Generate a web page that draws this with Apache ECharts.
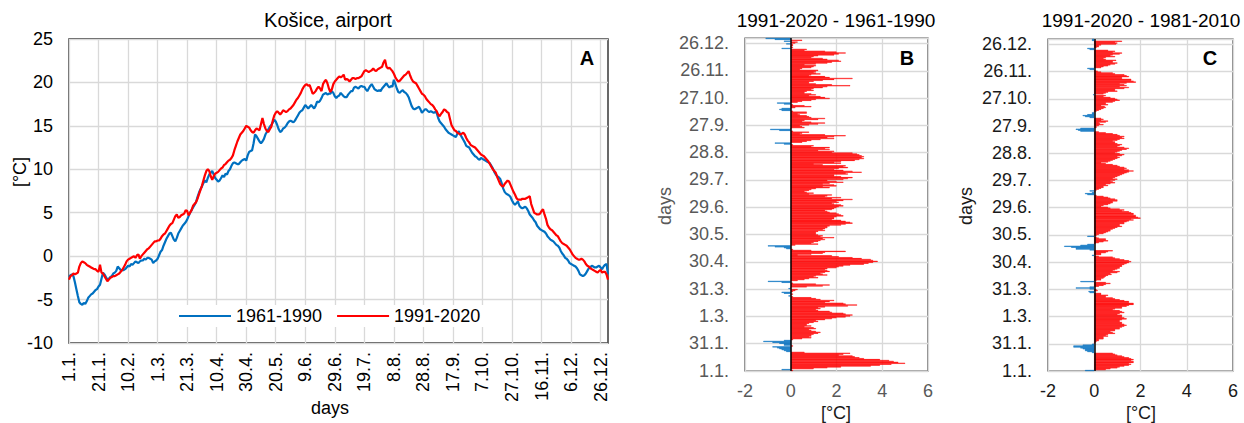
<!DOCTYPE html>
<html lang="en">
<head>
  <meta charset="UTF-8">
  <title>Kosice airport</title>
  <script src="https://cdn.jsdelivr.net/npm/echarts@6/dist/echarts.min.js"></script>
  <style>
    body { margin: 0; background: #fff; }
    #main { width: 1244px; height: 423px; }
  </style>
</head>
<body>
  <div id="main"></div>
  <script>
    // days of a leap year, labels like "1.1."
    var monthLen = [31, 29, 31, 30, 31, 30, 31, 31, 30, 31, 30, 31]
    var dayLabels = []
    monthLen.forEach(function (n, m) {
      for (var d = 1; d <= n; d++) dayLabels.push(d + '.' + (m + 1) + '.')
    })

    // mean daily temperature, 1961-1990
    var t6190 = [
      -2.4,-2.2,-2.1,-2.3,-3.0,-3.8,-4.6,-5.3,-5.5,-5.6,
      -5.4,-5.5,-5.2,-4.8,-4.6,-4.4,-4.3,-4.1,-3.9,-3.8,
      -3.5,-3.3,-2.6,-1.9,-2.1,-2.4,-2.7,-2.6,-2.4,-2.3,
      -2.0,-1.9,-1.7,-1.2,-1.4,-1.6,-1.6,-1.6,-1.5,-1.3,
      -1.1,-1.2,-0.9,-1.0,-0.8,-0.6,-0.7,-0.8,-0.6,-0.5,
      -0.5,-0.3,-0.4,-0.2,-0.2,-0.3,-0.4,-0.8,-0.6,-0.5,
      -0.3,0.1,0.5,0.7,1.2,1.6,2.0,2.3,2.6,2.7,
      2.3,1.9,1.7,2.1,2.6,2.9,3.2,3.5,3.7,3.9,
      4.2,4.6,5.0,5.3,5.6,5.9,6.2,6.8,7.3,7.7,
      8.0,8.4,8.7,8.5,9.0,9.4,9.6,9.8,9.4,9.0,
      8.8,8.6,8.7,9.0,9.3,9.1,9.5,9.4,9.8,10.0,
      10.4,10.7,10.8,10.7,10.6,10.6,10.8,11.0,11.1,11.2,
      11.0,11.6,12.0,12.1,12.2,13.0,14.0,13.8,13.5,13.2,
      13.0,13.2,13.5,14.0,14.3,14.6,14.9,15.1,15.4,15.7,
      15.5,15.1,14.6,14.3,14.4,14.7,14.8,15.0,15.3,15.5,
      15.6,15.5,15.4,15.6,15.9,16.2,16.5,16.7,16.8,17.1,
      17.4,17.2,17.0,17.2,17.4,17.2,17.0,17.3,17.8,17.7,
      17.9,18.2,18.6,18.7,18.8,18.6,18.7,18.7,19.0,18.8,
      18.4,18.2,18.4,18.5,18.8,18.6,18.4,18.3,18.3,18.6,
      18.8,19.0,19.0,19.4,19.5,19.4,19.3,19.5,19.6,19.5,
      19.5,19.2,19.0,19.3,19.6,19.8,19.5,19.2,19.1,19.0,
      19.1,19.0,19.3,19.5,19.7,19.9,19.6,19.4,19.6,19.5,
      20.3,19.8,19.3,18.9,18.8,19.0,19.1,18.9,18.8,18.6,
      18.3,17.8,17.3,17.0,16.9,17.0,17.1,17.2,16.9,16.5,
      16.7,16.9,16.9,16.7,16.6,16.7,16.6,16.5,16.6,16.5,
      15.9,15.5,15.3,15.1,14.9,14.6,14.4,14.2,14.1,14.0,
      13.9,13.8,13.7,14.1,14.4,14.0,13.7,13.4,13.1,12.7,
      12.6,12.5,12.2,11.9,11.7,11.5,11.4,11.2,11.1,11.3,
      11.2,11.1,11.0,10.9,10.8,10.7,10.4,10.1,9.7,9.4,
      9.2,9.1,8.9,8.4,7.8,7.4,7.2,7.1,7.0,6.8,
      6.4,6.1,5.9,6.1,6.3,5.8,5.6,5.5,5.6,5.7,
      5.5,5.2,4.8,4.6,4.4,4.1,3.9,3.5,3.3,3.1,
      3.0,2.9,2.8,2.6,2.3,2.1,1.9,1.8,1.7,1.5,
      1.3,1.2,1.0,0.6,0.3,0.1,-0.2,-0.3,-0.5,-0.8,
      -0.9,-1.0,-1.1,-1.2,-1.4,-1.7,-2.1,-2.2,-2.3,-2.2,
      -2.0,-1.7,-1.4,-1.3,-1.1,-1.2,-1.3,-1.3,-1.2,-1.1,
      -1.3,-1.5,-1.2,-1.0,-0.9,-2.1
    ]

    // mean daily temperature, 1991-2020
    var t9120 = [
      -2.7,-2.3,-2.2,-2.0,-2.1,-2.0,-1.9,-1.2,-0.8,-0.6,
      -0.7,-0.8,-1.0,-1.1,-1.2,-1.3,-1.4,-1.5,-1.5,-1.7,
      -1.8,-1.0,-1.9,-2.0,-2.3,-2.6,-2.9,-2.7,-2.5,-2.4,
      -2.3,-2.3,-2.2,-2.1,-2.0,-1.8,-1.6,-1.3,-1.0,-0.6,
      -0.4,-0.3,-0.2,-0.1,0.0,-0.2,0.1,0.2,-0.3,0.0,
      0.2,0.4,0.6,0.8,0.9,1.1,1.3,1.5,1.7,1.7,
      1.8,1.8,2.0,2.3,2.5,2.6,2.9,3.2,3.5,3.7,
      3.8,4.2,4.6,4.8,4.4,4.5,4.7,4.8,4.9,5.3,
      5.2,4.7,5.0,5.3,5.8,6.0,6.2,6.6,7.1,7.6,
      8.1,8.7,9.3,9.8,10.0,9.8,9.2,8.8,9.2,9.5,
      9.6,9.7,9.9,10.1,10.2,10.5,10.6,10.8,11.0,11.1,
      11.3,11.6,12.2,12.7,13.2,13.6,14.0,14.2,14.4,14.7,
      15.0,14.9,14.8,14.5,14.3,14.2,14.5,14.7,14.6,14.5,
      15.2,15.9,15.2,14.7,14.4,14.3,14.6,14.9,15.6,16.2,
      16.5,16.7,16.5,16.3,16.5,16.8,16.7,16.6,16.7,16.9,
      17.0,17.2,17.4,17.7,18.0,18.2,18.5,18.8,19.2,19.5,
      19.7,19.8,19.6,19.7,19.2,18.7,18.8,19.0,19.3,19.5,
      19.3,19.0,19.8,20.1,20.3,19.9,19.3,18.9,19.2,19.8,
      20.1,20.3,20.5,20.7,20.6,20.7,20.9,20.3,20.4,20.3,
      20.1,20.3,20.5,20.5,20.4,20.5,20.5,20.6,20.7,21.0,
      21.3,21.4,21.3,21.2,21.3,21.4,21.6,21.4,21.3,21.5,
      21.6,21.7,21.8,22.3,22.6,21.8,21.6,21.7,21.5,21.3,
      21.0,20.6,20.3,20.1,20.2,20.4,20.6,20.8,20.9,21.1,
      21.3,20.8,20.4,20.1,20.0,19.9,19.6,19.3,19.0,18.7,
      18.6,18.4,18.1,17.9,17.7,17.5,17.4,17.2,16.9,16.7,
      16.3,16.1,16.4,16.6,16.9,16.8,16.6,16.5,15.8,15.1,
      14.8,14.5,14.4,14.2,14.1,14.0,14.1,14.2,14.0,13.6,
      13.3,13.1,12.8,12.7,12.6,12.5,12.3,12.1,11.9,11.7,
      11.6,11.5,11.3,11.1,10.9,10.6,10.3,10.0,9.8,9.6,
      9.1,8.7,8.3,8.1,8.0,8.3,8.5,8.7,8.6,8.2,
      7.8,7.4,7.1,6.7,6.5,6.5,6.5,6.6,6.6,6.6,
      6.7,6.8,6.9,6.0,5.5,5.0,4.9,4.8,4.8,4.9,
      5.2,5.4,4.8,4.3,3.6,3.3,3.1,3.0,2.8,2.6,
      2.4,2.3,2.0,1.7,1.5,1.4,1.3,1.2,1.0,0.8,
      0.5,0.2,0.0,-0.2,-0.3,-0.4,-0.4,-0.3,-0.4,-0.6,
      -0.9,-1.1,-1.2,-1.4,-1.5,-1.6,-1.7,-1.8,-1.9,-1.7,
      -1.6,-1.9,-1.8,-1.8,-2.1,-2.7
    ]

    // difference 1991-2020 minus 1961-1990
    var diffB = [
      0.1,-0.4,1.0,1.6,2.2,3.5,3.9,4.4,5.0,4.7,
      4.5,4.3,3.9,3.2,3.0,2.8,2.7,2.1,2.3,2.6,
      0.6,-0.2,-0.3,-0.4,-0.5,-0.6,-0.8,0.1,-0.3,-0.3,
      -0.5,-0.8,-1.2,-0.3,0.1,0.5,0.9,0.8,0.9,0.9,
      1.0,1.2,1.3,1.1,0.9,0.8,1.1,1.0,0.6,0.9,
      0.7,0.7,0.8,1.0,1.2,1.1,1.5,1.8,2.0,2.4,
      2.6,2.7,2.4,2.3,1.8,1.7,1.2,1.1,1.3,1.2,
      1.5,2.5,2.9,2.4,2.3,1.5,1.7,1.9,1.3,1.1,
      0.9,0.1,-0.1,0.0,0.1,-0.3,-0.4,0.1,0.2,0.3,
      -0.1,0.0,0.7,1.4,1.7,1.1,0.1,-0.4,-1.0,0.3,
      0.6,0.8,1.2,1.0,1.1,1.6,1.4,1.3,1.5,1.7,
      1.6,1.5,1.6,2.0,2.1,2.3,2.6,3.2,3.4,3.6,
      3.8,3.6,3.5,3.1,2.7,2.1,1.8,0.3,0.9,1.4,
      1.5,2.4,0.9,0.1,-0.2,-0.3,-0.7,-1.0,0.2,1.2,
      0.9,1.0,1.2,1.3,1.5,1.4,1.9,1.3,1.4,1.2,
      1.1,1.1,1.1,1.2,1.5,1.4,1.5,1.6,1.6,1.7,
      2.2,2.4,2.7,2.6,2.4,2.2,1.8,1.9,1.9,2.0,
      2.3,2.2,2.1,2.0,1.7,1.6,1.5,1.8,1.9,2.0,
      2.1,2.3,2.2,1.9,1.8,2.1,2.0,2.3,2.7,1.8,
      2.2,1.5,1.6,1.8,0.8,1.0,0.7,0.6,0.8,0.9,
      1.1,1.7,1.4,2.0,1.9,1.4,1.7,2.3,2.0,1.6,
      2.3,2.5,2.7,2.2,1.9,1.9,2.5,2.4,3.1,2.7,
      2.3,1.9,2.1,2.5,2.3,2.4,1.4,1.0,2.2,1.9,
      2.2,2.8,3.0,3.2,3.1,3.2,3.1,3.0,2.9,2.7,
      1.8,1.9,1.2,1.7,1.5,1.7,0.9,1.0,0.1,-0.3,
      -0.7,0.5,0.7,0.9,1.3,1.9,1.6,1.9,2.4,1.5,
      0.4,0.5,0.8,0.1,-0.5,-0.9,0.0,0.6,0.5,0.4,
      0.8,1.2,1.5,0.9,0.5,0.6,1.2,1.5,0.9,0.8,
      0.7,0.4,0.3,0.7,0.7,0.1,-0.4,-0.5,-0.4,0.2,
      0.9,0.6,0.1,-0.3,-0.6,0.3,0.5,0.9,1.1,1.7,
      1.5,1.3,0.8,1.1,0.9,0.6,0.6,0.7,1.0,0.9,
      1.0,1.4,1.6,2.6,1.8,1.1,0.8,0.8,1.0,1.4,
      1.9,2.7,1.7,1.5,0.8,0.9,1.3,1.1,1.0,1.1,
      1.2,0.4,0.5,0.9,1.0,1.1,0.6,1.1,1.6,1.8,
      2.2,2.1,1.6,1.4,0.9,1.0,1.2,1.9,2.1,2.4,
      2.0,1.5,0.6,0.7,-0.4,0.1,0.0,0.1,0.1,-0.2,
      0.2,0.3,-0.3,0.5,-0.7,-1.1
    ]

    // difference 1991-2020 minus 1981-2010
    var diffC = [
      -0.4,0.5,0.7,1.0,1.1,1.3,1.5,1.6,1.5,1.7,
      1.7,1.6,1.7,1.6,1.5,1.3,1.2,1.0,0.9,0.8,
      -0.1,-0.3,-0.4,-0.4,-0.5,-0.6,-0.9,-0.9,-0.5,-0.1,
      0.0,0.05,0.1,0.2,0.2,0.4,0.4,0.4,0.6,0.5,
      0.6,0.9,0.8,0.7,0.9,0.9,1.1,1.1,1.2,1.3,
      1.4,1.3,1.2,1.2,1.1,1.1,1.2,1.4,1.3,1.2,
      1.2,1.2,1.0,1.1,1.3,1.2,1.1,0.8,0.9,1.2,
      1.2,1.4,1.5,1.7,1.7,1.5,1.5,1.3,1.1,0.9,
      0.8,0.5,0.5,0.6,0.3,0.3,-0.2,-0.25,0.15,0.1,
      -0.2,-0.8,-0.2,0.2,0.4,0.5,0.7,0.5,-0.6,0.1,
      0.3,0.3,0.4,0.45,0.5,0.6,0.75,0.7,1.0,1.1,
      0.8,0.9,1.0,1.1,1.1,1.2,1.2,1.3,1.4,1.5,
      1.6,1.5,1.3,1.1,0.9,0.8,0.2,-0.1,0.3,0.3,
      0.5,0.6,0.8,-0.2,-0.8,-0.8,-1.0,-1.3,-0.6,-0.3,
      0.05,0.2,0.4,0.6,0.5,0.5,0.2,0.1,-0.3,0.1,
      0.2,0.4,0.5,0.6,0.7,0.7,0.8,0.9,1.0,1.2,
      1.1,1.1,1.3,1.3,1.4,1.5,1.7,1.6,2.0,1.9,
      1.8,1.8,1.7,1.7,1.6,1.5,1.2,1.3,1.1,0.7,
      0.6,0.3,0.4,0.6,0.7,0.8,0.8,1.0,1.0,0.9,
      0.7,0.6,0.4,0.1,-0.3,-0.4,-0.1,0.05,-0.2,0.1,
      0.2,0.3,0.4,0.4,0.6,0.5,0.7,0.9,0.8,0.7,
      0.9,1.0,0.8,0.9,1.0,1.1,1.2,1.3,1.4,1.5,
      1.7,1.5,1.3,1.4,1.3,1.1,1.0,0.8,0.5,0.3,
      0.6,0.7,0.8,0.9,1.0,1.1,1.0,1.2,1.3,1.1,
      0.9,1.0,1.1,1.2,1.4,1.5,1.3,1.0,1.1,1.2,
      1.0,0.9,0.9,0.8,1.0,1.1,1.3,1.2,1.3,1.1,
      1.0,0.8,0.5,0.2,-0.6,-0.7,-0.8,-0.6,0.1,0.1,
      0.2,0.4,0.25,0.2,0.5,0.6,0.3,0.4,0.3,-0.2,
      -0.4,-0.5,-0.3,-0.1,-0.1,0.0,0.1,0.2,0.3,0.4,
      0.5,0.45,0.3,0.6,0.5,0.5,0.8,0.9,1.1,1.0,
      0.9,0.7,0.4,0.5,-0.05,0.4,0.5,0.6,1.0,0.9,
      0.9,1.3,1.5,1.1,1.4,1.3,1.1,1.4,1.8,1.7,
      1.6,1.6,1.2,1.2,1.5,1.4,1.3,0.9,0.8,0.3,
      0.15,0.05,-0.2,-0.3,0.3,0.4,0.6,0.7,0.9,1.0,
      0.8,0.8,0.95,0.5,0.4,0.5,0.9,0.7,0.8,1.1,
      1.2,0.8,0.9,0.6,-0.2,-0.3,0.1,0.2,0.2,0.3,
      0.95,1.0,0.9,1.2,-0.1,-0.1
    ]

    var FONT = 'Liberation Sans, Arial, sans-serif'
    var BLUE = '#0070C0'
    var RED = '#FF0000'
    var GRID = '#d9d9d9'
    var FS = 18

    // split one difference series into warmer / colder days
    function warmer(arr) { return arr.map(function (v) { return v >= 0 ? v : '-' }) }
    function colder(arr) { return arr.map(function (v) { return v < 0 ? v : '-' }) }

    var mCharts = echarts.init(document.getElementById('main'), null, { renderer: 'svg' })

    function diffXAxis(idx, color) {
      return {
        type: 'value', gridIndex: idx, min: -2, max: 6, interval: 2,
        axisLine: { show: false }, axisTick: { show: false },
        axisLabel: { fontSize: FS, color: color, margin: 11, fontFamily: FONT },
        splitLine: { lineStyle: { color: GRID, width: 1.3 } }
      }
    }
    function diffYAxis(idx, color) {
      return {
        type: 'category', gridIndex: idx, data: dayLabels,
        axisLine: { show: false }, axisTick: { show: false },
        axisLabel: { interval: 29, fontSize: FS, color: color, margin: 16, fontFamily: FONT },
        splitLine: { show: true, interval: 29, lineStyle: { color: GRID, width: 1.3 } }
      }
    }
    function barSeries(idx, data, color, zeroLine) {
      var s = {
        type: 'bar', xAxisIndex: idx, yAxisIndex: idx, data: data,
        barCategoryGap: '0%', barGap: '-100%',
        itemStyle: { color: color, borderColor: color, borderWidth: 0.4 }
      }
      if (zeroLine) {
        s.markLine = {
          silent: true, symbol: ['none', 'none'], label: { show: false },
          lineStyle: { color: '#000', width: 1.5, type: 'solid' },
          data: [{ xAxis: 0 }]
        }
      }
      return s
    }
    function label(text, x, y, opts) {
      opts = opts || {}
      return {
        type: 'text', x: x, y: y, rotation: opts.rotation || 0, z: 100,
        style: {
          text: text, fontSize: opts.size || FS, fontFamily: FONT,
          fontWeight: opts.bold ? 'bold' : 'normal',
          fill: opts.color || '#000', align: 'center', verticalAlign: 'middle'
        }
      }
    }

    var option = {
      animation: false,
      textStyle: { fontFamily: FONT },
      grid: [
        { left: 69, top: 39, width: 539, height: 304, show: true, borderColor: '#1a1a1a', borderWidth: 1.3 },
        { left: 745, top: 38, width: 183, height: 333, show: true, borderColor: '#404040', borderWidth: 1.2 },
        { left: 1048, top: 39, width: 185, height: 332, show: true, borderColor: '#404040', borderWidth: 1.2 }
      ],
      legend: {
        data: ['1961-1990', '1991-2020'],
        left: 176, top: 305,
        icon: 'rect', itemWidth: 52, itemHeight: 2, itemGap: 15,
        backgroundColor: '#fff', padding: [2, 5, 2, 3],
        textStyle: { fontSize: FS, color: '#000', fontFamily: FONT }
      },
      xAxis: [
        {
          type: 'category', gridIndex: 0, data: dayLabels, boundaryGap: false,
          axisLine: { show: false }, axisTick: { show: false },
          axisLabel: { interval: 19, rotate: 90, margin: 9, fontSize: FS, color: '#000', fontFamily: FONT },
          splitLine: { show: true, interval: 19, lineStyle: { color: GRID, width: 1.3 } }
        },
        diffXAxis(1, '#595959'),
        diffXAxis(2, '#1a1a1a')
      ],
      yAxis: [
        {
          type: 'value', gridIndex: 0, min: -10, max: 25, interval: 5,
          axisLine: { show: false }, axisTick: { show: false },
          axisLabel: { fontSize: FS, color: '#000', margin: 16, fontFamily: FONT },
          splitLine: { lineStyle: { color: GRID, width: 1.3 } }
        },
        diffYAxis(1, '#595959'),
        diffYAxis(2, '#1a1a1a')
      ],
      series: [
        {
          name: '1961-1990', type: 'line', xAxisIndex: 0, yAxisIndex: 0, data: t6190,
          symbol: 'none', lineStyle: { color: BLUE, width: 2.2 }, itemStyle: { color: BLUE }
        },
        {
          name: '1991-2020', type: 'line', xAxisIndex: 0, yAxisIndex: 0, data: t9120,
          symbol: 'none', lineStyle: { color: RED, width: 2.2 }, itemStyle: { color: RED }
        },
        barSeries(1, warmer(diffB), RED, true),
        barSeries(1, colder(diffB), BLUE, false),
        barSeries(2, warmer(diffC), RED, true),
        barSeries(2, colder(diffC), BLUE, false)
      ],
      graphic: [
        label('Košice, airport', 328, 20, { size: 20 }),
        label('A', 587, 58, { bold: true, size: 20 }),
        label('[°C]', 20, 172, { rotation: Math.PI / 2 }),
        label('days', 330, 408),
        label('1991-2020 - 1961-1990', 836, 20, { size: 19 }),
        label('B', 907, 58, { bold: true, size: 20 }),
        label('days', 665, 206, { rotation: Math.PI / 2, color: '#595959' }),
        label('[°C]', 836, 413, { color: '#1a1a1a' }),
        label('1991-2020 - 1981-2010', 1141, 20, { size: 19 }),
        label('C', 1210, 58, { bold: true, size: 20 }),
        label('days', 966, 206, { rotation: Math.PI / 2, color: '#1a1a1a' }),
        label('[°C]', 1141, 413, { color: '#1a1a1a' })
      ]
    }

    mCharts.setOption(option)
    window.onresize = mCharts.resize
  </script>
</body>
</html>
